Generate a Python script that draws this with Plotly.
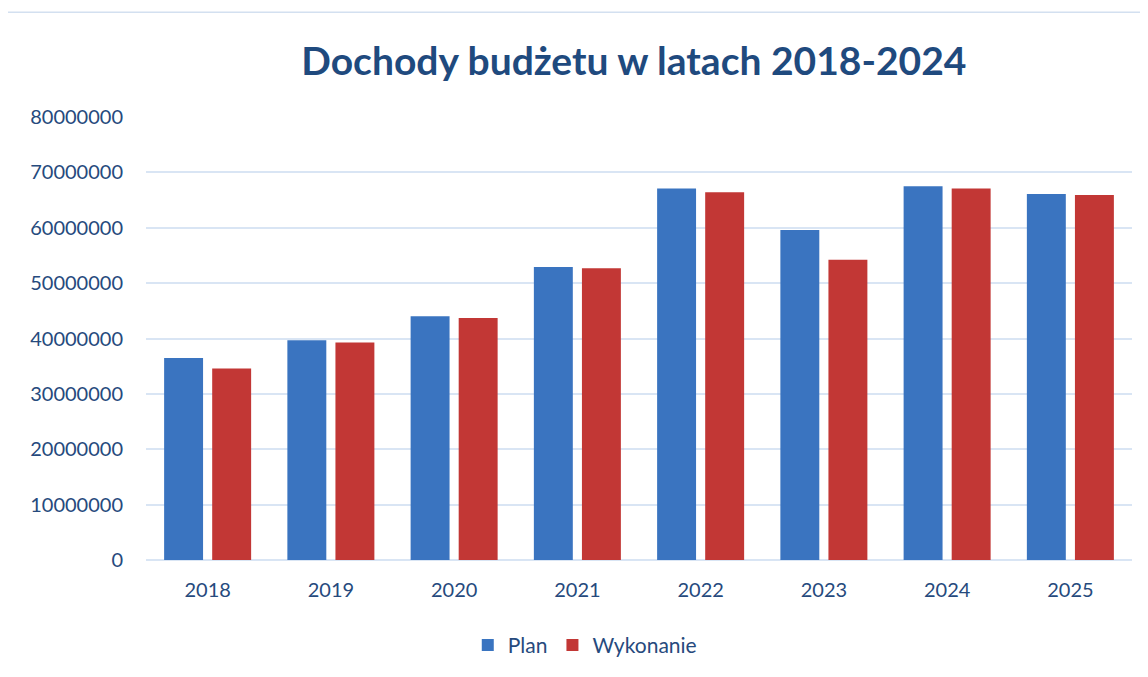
import plotly.graph_objects as go

years = ["2018", "2019", "2020", "2021", "2022", "2023", "2024", "2025"]
plan = [36500000, 39700000, 44000000, 52900000, 67100000, 59600000, 67500000, 66100000]
wykonanie = [34600000, 39300000, 43700000, 52700000, 66400000, 54200000, 67100000, 65900000]
y_ticks = [0, 10000000, 20000000, 30000000, 40000000, 50000000, 60000000, 70000000, 80000000]

TEXT = "#264A7D"
FONT = "Lato"

fig = go.Figure()
fig.add_trace(go.Bar(name="Plan", x=years, y=plan, marker=dict(color="#3A74C0", line=dict(width=0))))
fig.add_trace(go.Bar(name="Wykonanie", x=years, y=wykonanie, marker=dict(color="#C23735", line=dict(width=0))))

fig.update_layout(
    width=1140, height=669,
    margin=dict(l=138, r=16, t=109, b=116),
    paper_bgcolor="white", plot_bgcolor="white",
    barmode="group", bargap=0.22, bargroupgap=0.19,
    font=dict(family=FONT, color=TEXT, size=20),
    title=dict(text="<b>Dochody budżetu w latach 2018-2024</b>", x=0.549, xanchor="center",
               y=0.92, yanchor="middle", xref="container", yref="container",
               font=dict(family=FONT, size=39, color="#1F4A7E")),
    showlegend=True,
    legend=dict(orientation="h", x=0.445, xanchor="center", y=-0.19, yanchor="middle",
                font=dict(family=FONT, size=21, color=TEXT), itemwidth=30, traceorder="normal"),
    xaxis=dict(showgrid=False, showline=False, ticks="", ticklabelstandoff=16,
               tickfont=dict(size=20, color=TEXT)),
    yaxis=dict(range=[0, 80000000], tickvals=y_ticks, ticktext=[str(v) for v in y_ticks],
               showgrid=True, gridcolor="#D9E5F4", gridwidth=2, zeroline=True, zerolinecolor="#D9E5F4",
               zerolinewidth=2, showline=False, ticks="", ticklabelstandoff=22,
               tickfont=dict(size=20, color=TEXT)),
    shapes=[dict(type="rect", xref="paper", yref="paper",
                 x0=-0.143, x1=1.05, y0=-0.3, y1=1.2365,
                 line=dict(color="#D3E0F0", width=1.5), layer="below")],
)

fig.write_html("out.html")
